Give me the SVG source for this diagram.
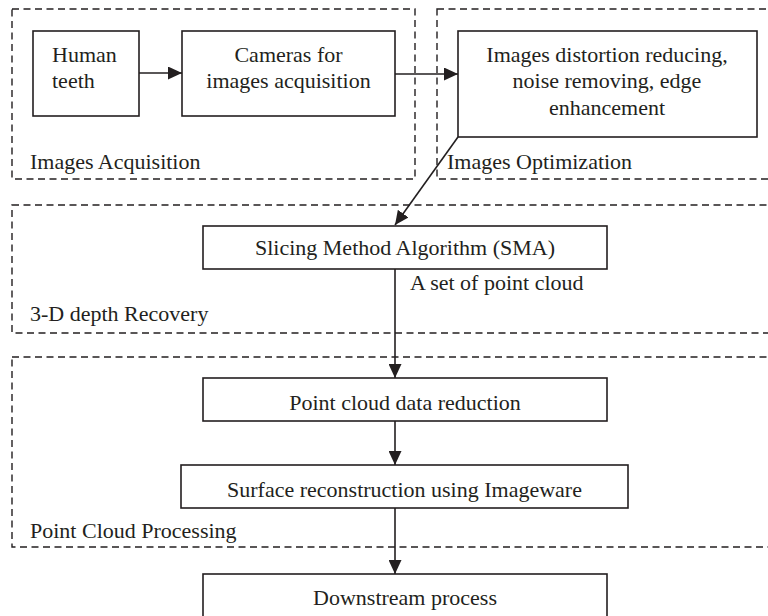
<svg xmlns="http://www.w3.org/2000/svg" width="768" height="616" viewBox="0 0 768 616">
<defs>
<style>
.grp{fill:none;stroke:#231f20;stroke-width:1.4;stroke-dasharray:7 4.5}
.box{fill:#fff;stroke:#231f20;stroke-width:1.6}
.t{font-family:"Liberation Serif","Times New Roman",serif;font-size:22px;fill:#231f20}
.c{text-anchor:middle}
.ln{fill:none;stroke:#231f20;stroke-width:1.6}
</style>
<marker id="ah" markerUnits="userSpaceOnUse" markerWidth="15" markerHeight="13" refX="14" refY="6.5" orient="auto">
<path d="M0,0 L14,6.5 L0,13 z" fill="#231f20"/>
</marker>
</defs>
<rect width="768" height="616" fill="#fff"/>
<g id="group-acquisition">
<rect class="grp" x="12" y="9" width="403" height="170"/>
<text class="t" x="30" y="169">Images Acquisition</text>
</g>
<g id="group-optimization">
<rect class="grp" x="437" y="9" width="345" height="170"/>
<text class="t" x="447" y="169">Images Optimization</text>
</g>
<g id="group-depth">
<rect class="grp" x="12" y="205" width="775" height="128"/>
<text class="t" x="30" y="321">3-D depth Recovery</text>
</g>
<g id="group-pointcloud">
<rect class="grp" x="12" y="357" width="775" height="190"/>
<text class="t" x="30" y="538">Point Cloud Processing</text>
</g>
<g id="connectors">
<line class="ln" x1="139" y1="73" x2="182" y2="73" marker-end="url(#ah)"/>
<line class="ln" x1="395" y1="74" x2="458" y2="74" marker-end="url(#ah)"/>
<line class="ln" x1="458" y1="137" x2="395" y2="225" marker-end="url(#ah)"/>
<line class="ln" x1="395" y1="269" x2="395" y2="378" marker-end="url(#ah)"/>
<line class="ln" x1="395" y1="421" x2="395" y2="465" marker-end="url(#ah)"/>
<line class="ln" x1="395" y1="508" x2="395" y2="574" marker-end="url(#ah)"/>
<text class="t" x="410" y="290">A set of point cloud</text>
</g>
<g id="node-teeth">
<rect class="box" x="33" y="31" width="106" height="85"/>
<text class="t" x="52" y="62">Human</text>
<text class="t" x="52" y="88">teeth</text>
</g>
<g id="node-cameras">
<rect class="box" x="182" y="31" width="213" height="85"/>
<text class="t c" x="288.5" y="62">Cameras for</text>
<text class="t c" x="288.5" y="88">images acquisition</text>
</g>
<g id="node-optimize">
<rect class="box" x="458" y="31" width="299" height="106"/>
<text class="t c" x="607" y="62">Images distortion reducing,</text>
<text class="t c" x="607" y="88">noise removing, edge</text>
<text class="t c" x="607" y="115">enhancement</text>
</g>
<g id="node-sma">
<rect class="box" x="203" y="226" width="404" height="43"/>
<text class="t c" x="405" y="255">Slicing Method Algorithm (SMA)</text>
</g>
<g id="node-reduction">
<rect class="box" x="203" y="378" width="404" height="43"/>
<text class="t c" x="405" y="410">Point cloud data reduction</text>
</g>
<g id="node-surface">
<rect class="box" x="181" y="465" width="447" height="43"/>
<text class="t c" x="404.5" y="497">Surface reconstruction using Imageware</text>
</g>
<g id="node-downstream">
<rect class="box" x="203" y="574" width="404" height="60"/>
<text class="t c" x="405" y="605">Downstream process</text>
</g>
</svg>
